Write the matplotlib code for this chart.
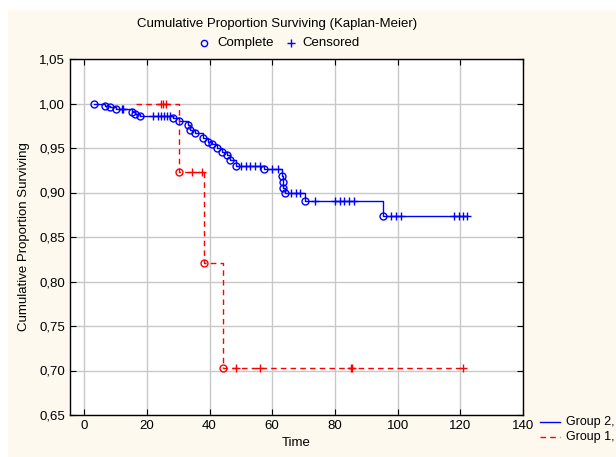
import numpy as np
import matplotlib
matplotlib.use('Agg')
import matplotlib.pyplot as plt
from matplotlib.lines import Line2D
from matplotlib.patches import Rectangle
from matplotlib.ticker import FuncFormatter

plt.rcParams['font.family'] = ['Liberation Sans', 'DejaVu Sans']

# Group 2 - czasy zdarzen (complete) i przezycie po zdarzeniu
czas_2 = [3, 6.7, 8.3, 10.2, 15.3, 16.3, 17.9, 28.3, 30.2, 33.2, 33.9, 35.5, 38, 39.6,
          40.9, 42.5, 44.1, 45.7, 46.6, 48.6, 57.5, 63, 63.3, 63.6, 64, 70.5, 95.5]
surv_2 = [0.999, 0.997, 0.996, 0.994, 0.990, 0.988, 0.986, 0.984, 0.980, 0.976, 0.970,
          0.967, 0.961, 0.957, 0.954, 0.950, 0.946, 0.942, 0.937, 0.930, 0.926, 0.919,
          0.912, 0.905, 0.899, 0.890, 0.874]
cenz_2 = [12, 12.5, 22, 23.5, 24.5, 25.5, 26.5, 27.5, 50, 51.5, 53, 54.5, 56, 60, 62,
          66, 67.5, 69, 73.8, 80, 81.5, 83, 84.5, 86, 98, 99.5, 101, 118, 119.5, 121, 122]
koniec_2 = 122

# Group 1
start_1 = 16.6
czas_1 = [30.3, 38.1, 44.4]
surv_1 = [0.923, 0.821, 0.703]
cenz_1 = [24.5, 25.3, 26, 34.5, 37.5, 48.3, 56, 85, 85.6, 121]
koniec_1 = 121

x_ticks = [0, 20, 40, 60, 80, 100, 120, 140]
y_ticks = [0.65, 0.70, 0.75, 0.80, 0.85, 0.90, 0.95, 1.00, 1.05]


def przezycie(t, czasy, wartosci, poczatek=1.0):
    idx = np.searchsorted(czasy, t, side='right') - 1
    return poczatek if idx < 0 else wartosci[idx]


fig = plt.figure(figsize=(6.16, 4.57), dpi=100)
fig.patch.set_facecolor('white')
fig.add_artist(Rectangle((8 / 616, 0), 1, 1 - 10 / 457, transform=fig.transFigure,
                         facecolor='#fdf9ef', edgecolor='none', zorder=-10))

ax = fig.add_axes([70 / 616, 1 - 415 / 457, (523 - 70) / 616, (415 - 59) / 457])
ax.set_facecolor('white')

# Group 2 - niebieska
x2 = czas_2 + [koniec_2]
y2 = surv_2 + [surv_2[-1]]
ax.step(x2, y2, where='post', color='#0000ff', lw=1.0, zorder=3)
ax.plot(czas_2, surv_2, 'o', mfc='none', mec='#0000ff', ms=5, mew=1.0, zorder=4)
ax.plot(cenz_2, [przezycie(t, czas_2, surv_2) for t in cenz_2], '+', color='#0000ff',
        ms=5.5, mew=1.0, zorder=4)

# Group 1 - czerwona przerywana
x1 = [start_1] + czas_1 + [koniec_1]
y1 = [1.0] + surv_1 + [surv_1[-1]]
ax.step(x1, y1, where='post', color='#ff0000', lw=1.0, ls=(0, (4, 3)), zorder=3)
ax.plot(czas_1, surv_1, 'o', mfc='none', mec='#ff0000', ms=5, mew=1.0, zorder=4)
ax.plot(cenz_1, [przezycie(t, czas_1, surv_1) for t in cenz_1], '+', color='#ff0000',
        ms=5.5, mew=1.0, zorder=4)

ax.set_xlim(-4.5, 140)
ax.set_ylim(0.65, 1.05)
ax.set_xticks(x_ticks)
ax.set_yticks(y_ticks)
ax.yaxis.set_major_formatter(FuncFormatter(lambda v, p: f'{v:.2f}'.replace('.', ',')))
ax.grid(True, color='#c8c8c8', lw=1.0, zorder=0)
ax.set_axisbelow(True)
ax.tick_params(direction='in', top=True, right=True, length=4, width=0.8,
               labelsize=9.5, colors='black')
for s in ax.spines.values():
    s.set_linewidth(1.0)
    s.set_color('black')

ax.set_xlabel('Time', fontsize=9.5, labelpad=4)
ax.set_ylabel('Cumulative Proportion Surviving', fontsize=9.5, labelpad=7)

# tytul i legenda u gory
fig.text(277 / 616, 1 - 24 / 457, 'Cumulative Proportion Surviving (Kaplan-Meier)',
         ha='center', va='center', fontsize=9.5)
fig.add_artist(Line2D([204 / 616], [1 - 43 / 457], marker='o', mfc='none', mec='#0000ff',
                      ms=4.5, mew=1.0, transform=fig.transFigure))
fig.text(217 / 616, 1 - 43 / 457, 'Complete', ha='left', va='center', fontsize=9.5)
fig.add_artist(Line2D([291 / 616], [1 - 43 / 457], marker='+', color='#0000ff',
                      ms=6, mew=1.0, transform=fig.transFigure))
fig.text(302 / 616, 1 - 43 / 457, 'Censored', ha='left', va='center', fontsize=9.5)

# legenda grup w prawym dolnym rogu
fig.add_artist(Line2D([540 / 616, 560 / 616], [1 - 422 / 457] * 2, color='#0000ff', lw=1.0,
                      transform=fig.transFigure))
fig.text(566 / 616, 1 - 422 / 457, 'Group 2,', ha='left', va='center', fontsize=9)
fig.add_artist(Line2D([540 / 616, 560 / 616], [1 - 437 / 457] * 2, color='#ff0000', lw=1.0,
                      ls=(0, (4, 3)), transform=fig.transFigure))
fig.text(566 / 616, 1 - 437 / 457, 'Group 1,', ha='left', va='center', fontsize=9)

fig.savefig('out.png', dpi=100)
